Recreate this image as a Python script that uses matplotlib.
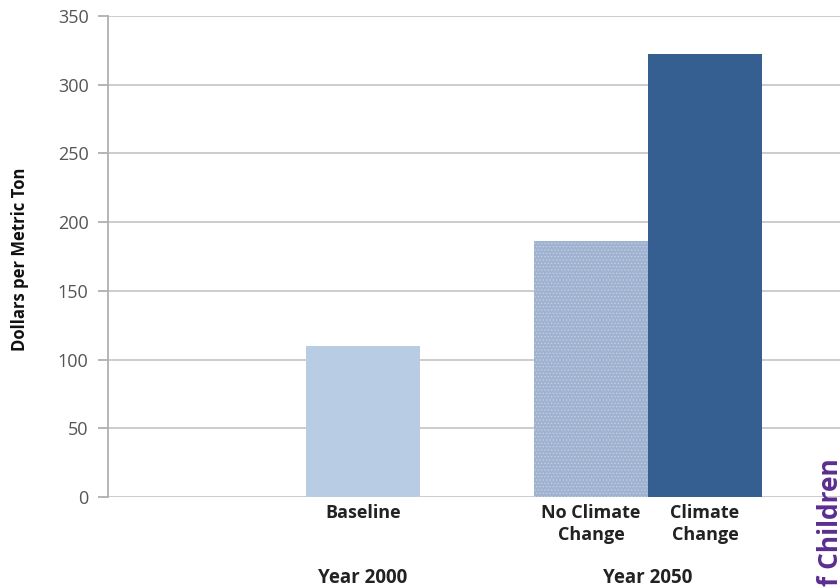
import matplotlib.pyplot as plt

# Price per metric ton, year 2000 baseline vs. 2050 scenarios
labels = ["Baseline", "No Climate\nChange", "Climate\nChange"]
values = [110, 186, 322]
groups = ["Year 2000", "Year 2050"]
yticks = [0, 50, 100, 150, 200, 250, 300, 350]

positions = [2.237, 4.237, 5.237]
group_pos = [2.237, 4.737]
colors = ["#b8cce4", "#9fb2d0", "#365f91"]

plt.rcParams['font.family'] = ['Open Sans', 'DejaVu Sans']
plt.rcParams['hatch.linewidth'] = 0.6

fig = plt.figure(figsize=(8.4, 5.88), dpi=100)
ax = fig.add_axes([108 / 840, 91 / 588, 1 - 108 / 840, 481 / 588])

bars = ax.bar(positions, values, width=1.0, color=colors, zorder=3, linewidth=0)
# fine dotted fill on the no-climate-change bar
bars[1].set_hatch('.....')
bars[1].set_edgecolor('#c2cee2')
bars[1].set_linewidth(0)

ax.set_ylim(0, 350)
ax.set_xlim(0, 732 / 114)
ax.set_yticks(yticks)
ax.yaxis.grid(True, color='#c8c8c8', linewidth=1.3, zorder=0)
ax.set_xticks([])

for s in ['top', 'right', 'bottom']:
    ax.spines[s].set_visible(False)
ax.spines['left'].set_color('#b0b0b0')
ax.spines['left'].set_linewidth(1.3)
ax.tick_params(axis='y', colors='#b0b0b0', labelcolor='#555555', labelsize=13,
               length=7, width=1.3, pad=7)

fig.text(20 / 840, 1 - 259 / 588, "Dollars per Metric Ton", rotation=90,
         ha='center', va='center', fontsize=12, fontweight='bold', color='#111111')

for x, lab in zip(positions, labels):
    ax.text(x, -5, lab, ha='center', va='top', fontsize=13, fontweight='bold',
            color='#222222', linespacing=1.3)

for x, g in zip(group_pos, groups):
    ax.text(x, -59, g, ha='center', va='center', fontsize=13.5, fontweight='bold',
            color='#222222', clip_on=False)

fig.text(831 / 840, (588 - 458) / 588, "f Children", rotation=90, ha='center', va='top',
         fontsize=19, fontweight='bold', color='#5b2d90')

fig.savefig("out.png", dpi=100)
